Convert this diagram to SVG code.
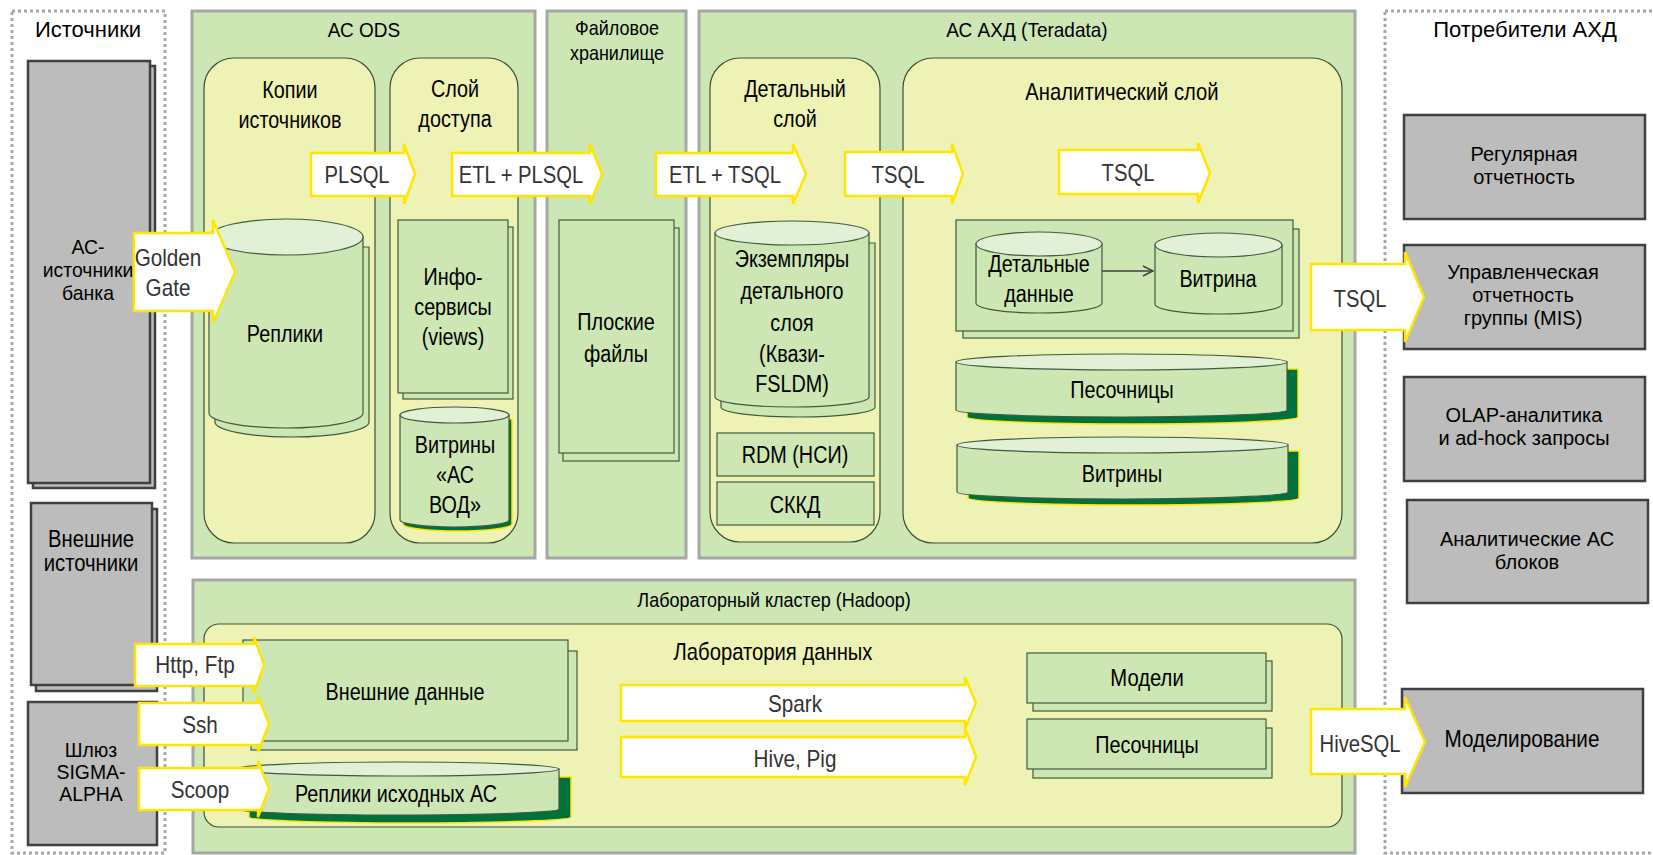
<svg xmlns="http://www.w3.org/2000/svg" width="1653" height="855" viewBox="0 0 1653 855">
<style>
text{font-family:"Liberation Sans",Arial,sans-serif;text-anchor:middle;fill:#000}
.ttl{font-size:22px}
.ft{font-size:20px}
.pt{font-size:23px}
.nt{font-size:23px}
.gt{font-size:20px}
.at{font-size:23px;fill:#333}
.dot{fill:none;stroke:#a6a6a6;stroke-width:3;stroke-dasharray:3 3}
.frame{fill:#cce6b4;stroke:#a6a6a6;stroke-width:3}
.panel{fill:#eef2b5;stroke:#3e4e38;stroke-width:1.2}
.box{fill:#cce6b4;stroke:#3f5a3f;stroke-width:1.2}
.cyl{fill:#cce6b4;stroke:#3f5a3f;stroke-width:1.2}
.top{fill:#e2f0d6;stroke:#3f5a3f;stroke-width:1.2}
.shd{fill:#00703c;stroke:#ffe600;stroke-width:1.5}
.grey{fill:#bcbcbc;stroke:#404040;stroke-width:2.5}
.arr{fill:#fff;stroke:#ffe600;stroke-width:2.5;stroke-linejoin:miter}
.ln{fill:none;stroke:#404040;stroke-width:1.5}
</style>
<defs>
<marker id="open" viewBox="0 0 12 12" refX="11" refY="6" markerWidth="12" markerHeight="12" markerUnits="userSpaceOnUse" orient="auto">
<path d="M1 1 L11 6 L1 11" fill="none" stroke="#404040" stroke-width="1.5"/>
</marker>
</defs>
<rect width="1653" height="855" fill="#fff"/>

<!-- Sources column -->
<g id="sources-frame">
<rect class="dot" x="12" y="11" width="153" height="842"/>
<text class="ttl" transform="translate(88 37)">Источники</text>
</g>
<g id="as-sources">
<rect class="grey" x="33" y="66" width="122" height="422"/>
<rect class="grey" x="28" y="61" width="122" height="422"/>
<text class="gt" transform="translate(88 254) scale(.97 1)"><tspan x="0">АС-</tspan><tspan x="0" dy="23">источники</tspan><tspan x="0" dy="23">банка</tspan></text>
</g>
<g id="ext-sources">
<rect class="grey" x="36" y="509" width="121" height="182"/>
<rect class="grey" x="31" y="503" width="121" height="182"/>
<text class="nt" transform="translate(91 547) scale(.88 1)"><tspan x="0">Внешние</tspan><tspan x="0" dy="24">источники</tspan></text>
</g>
<g id="gateway">
<rect class="grey" x="28" y="702" width="129" height="143"/>
<text class="gt" transform="translate(91 757) scale(.97 1)"><tspan x="0">Шлюз</tspan><tspan x="0" dy="22">SIGMA-</tspan><tspan x="0" dy="22">ALPHA</tspan></text>
</g>

<!-- AC ODS -->
<g id="ac-ods">
<rect class="frame" x="192" y="11" width="343" height="547"/>
<text class="ft" transform="translate(364 37) scale(.95 1)">АС ODS</text>
</g>
<g id="source-copies">
<rect class="panel" x="204" y="58" width="171" height="485" rx="30"/>
<text class="pt" transform="translate(290 98) scale(.86 1)"><tspan x="0">Копии</tspan><tspan x="0" dy="30">источников</tspan></text>
</g>
<g id="replicas">
<path class="cyl" d="M215 247 V422 A77 15 0 0 0 369 422 V247 Z"/>
<path class="cyl" d="M209 237 V413 A77 15 0 0 0 363 413 V237 Z"/>
<ellipse class="top" cx="286" cy="237" rx="77" ry="18"/>
<text class="nt" transform="translate(285 342) scale(.86 1)">Реплики</text>
</g>
<g id="access-layer">
<rect class="panel" x="390" y="58" width="128" height="485" rx="30"/>
<text class="pt" transform="translate(455 97) scale(.86 1)"><tspan x="0">Слой</tspan><tspan x="0" dy="30">доступа</tspan></text>
</g>
<g id="infoservices">
<rect class="box" x="403" y="227" width="110" height="172"/>
<rect class="box" x="398" y="220" width="110" height="173"/>
<text class="nt" transform="translate(453 285) scale(.86 1)"><tspan x="0">Инфо-</tspan><tspan x="0" dy="30">сервисы</tspan><tspan x="0" dy="30">(views)</tspan></text>
</g>
<g id="vod-marts">
<path class="shd" d="M403 419 V524 A54.5 7 0 0 0 512 524 V419 Z"/>
<path class="cyl" d="M400 415 V520 A54.5 7 0 0 0 509 520 V415 Z"/>
<ellipse class="top" cx="454.5" cy="415" rx="54.5" ry="8"/>
<text class="nt" transform="translate(455 453) scale(.86 1)"><tspan x="0">Витрины</tspan><tspan x="0" dy="30">«АС</tspan><tspan x="0" dy="30">ВОД»</tspan></text>
</g>

<!-- File storage -->
<g id="file-storage">
<rect class="frame" x="547" y="11" width="139" height="547"/>
<text class="ft" transform="translate(617 35) scale(.9 1)"><tspan x="0">Файловое</tspan><tspan x="0" dy="25">хранилище</tspan></text>
</g>
<g id="flat-files">
<rect class="box" x="563" y="228" width="116" height="233"/>
<rect class="box" x="559" y="220" width="115" height="233"/>
<text class="nt" transform="translate(616 330) scale(.86 1)"><tspan x="0">Плоские</tspan><tspan x="0" dy="32">файлы</tspan></text>
</g>

<!-- AC AHD -->
<g id="ac-ahd">
<rect class="frame" x="699" y="11" width="656" height="547"/>
<text class="ft" transform="translate(1027 37) scale(.95 1)">АС АХД (Teradata)</text>
</g>
<g id="detail-layer">
<rect class="panel" x="710" y="58" width="170" height="484" rx="30"/>
<text class="pt" transform="translate(795 97) scale(.86 1)"><tspan x="0">Детальный</tspan><tspan x="0" dy="30">слой</tspan></text>
</g>
<g id="detail-instances">
<path class="cyl" d="M721 243 V407 A77 10 0 0 0 875 407 V243 Z"/>
<path class="cyl" d="M715 233 V397 A77 10 0 0 0 869 397 V233 Z"/>
<ellipse class="top" cx="792" cy="233" rx="77" ry="12"/>
<text class="nt" transform="translate(792 267) scale(.86 1)"><tspan x="0">Экземпляры</tspan><tspan x="0" dy="32">детального</tspan><tspan x="0" dy="32">слоя</tspan><tspan x="0" dy="31">(Квази-</tspan><tspan x="0" dy="30">FSLDM)</tspan></text>
</g>
<g id="rdm">
<rect class="box" x="717" y="433" width="157" height="43"/>
<text class="nt" transform="translate(795 463) scale(.86 1)">RDM (НСИ)</text>
</g>
<g id="skkd">
<rect class="box" x="717" y="482" width="157" height="43"/>
<text class="nt" transform="translate(795 513) scale(.86 1)">СККД</text>
</g>
<g id="analytic-layer">
<rect class="panel" x="903" y="58" width="439" height="485" rx="30"/>
<text class="pt" transform="translate(1122 100) scale(.88 1)">Аналитический слой</text>
</g>
<g id="mart-block">
<rect class="box" x="963" y="229" width="336" height="109"/>
<rect class="box" x="956" y="220" width="337" height="111"/>
</g>
<g id="detail-data">
<path class="cyl" d="M976 244 V303 A63 10 0 0 0 1102 303 V244 Z"/>
<ellipse class="top" cx="1039" cy="244" rx="63" ry="12"/>
<text class="nt" transform="translate(1039 272) scale(.86 1)"><tspan x="0">Детальные</tspan><tspan x="0" dy="30">данные</tspan></text>
</g>
<g id="mart">
<path class="cyl" d="M1155 245 V304 A63.5 10 0 0 0 1282 304 V245 Z"/>
<ellipse class="top" cx="1218.5" cy="245" rx="63.5" ry="12"/>
<text class="nt" transform="translate(1218 287) scale(.86 1)">Витрина</text>
</g>
<g id="sandboxes">
<path class="shd" d="M967 369 V417 A165.5 7 0 0 0 1298 417 V369 Z"/>
<path class="cyl" d="M956 362 V410 A165.5 7 0 0 0 1287 410 V362 Z"/>
<ellipse class="top" cx="1121.5" cy="362" rx="165.5" ry="8"/>
<text class="nt" transform="translate(1122 398) scale(.86 1)">Песочницы</text>
</g>
<g id="marts">
<path class="shd" d="M968 451 V498 A165.5 7 0 0 0 1299 498 V451 Z"/>
<path class="cyl" d="M957 445 V492 A165.5 7 0 0 0 1288 492 V445 Z"/>
<ellipse class="top" cx="1122.5" cy="445" rx="165.5" ry="8"/>
<text class="nt" transform="translate(1122 482) scale(.86 1)">Витрины</text>
</g>

<!-- Hadoop -->
<g id="hadoop">
<rect class="frame" x="193" y="580" width="1162" height="273"/>
<text class="ft" transform="translate(774 607) scale(.9 1)">Лабораторный кластер (Hadoop)</text>
</g>
<g id="data-lab">
<rect class="panel" x="204" y="624" width="1138" height="203" rx="15"/>
<text class="pt" transform="translate(773 660) scale(.88 1)">Лаборатория данных</text>
</g>
<g id="external-data">
<rect class="box" x="251" y="651" width="326" height="99"/>
<rect class="box" x="243" y="640" width="325" height="101"/>
<text class="nt" transform="translate(405 700) scale(.86 1)">Внешние данные</text>
</g>
<g id="source-replicas">
<path class="shd" d="M249 777 V817 A161 6 0 0 0 571 817 V777 Z"/>
<path class="cyl" d="M237 769 V809 A161 6 0 0 0 559 809 V769 Z"/>
<ellipse class="top" cx="398" cy="769" rx="161" ry="7"/>
<text class="nt" transform="translate(396 802) scale(.86 1)">Реплики исходных АС</text>
</g>
<g id="models">
<rect class="box" x="1033" y="661" width="239" height="50"/>
<rect class="box" x="1027" y="653" width="239" height="50"/>
<text class="nt" transform="translate(1147 686) scale(.88 1)">Модели</text>
</g>
<g id="lab-sandboxes">
<rect class="box" x="1033" y="728" width="239" height="50"/>
<rect class="box" x="1027" y="719" width="239" height="50"/>
<text class="nt" transform="translate(1147 753) scale(.86 1)">Песочницы</text>
</g>

<!-- Consumers -->
<g id="consumers-frame">
<rect class="dot" x="1385" y="11" width="300" height="842"/>
<text class="ttl" transform="translate(1525 37)">Потребители АХД</text>
</g>
<g id="regular-reporting">
<rect class="grey" x="1404" y="115" width="241" height="104"/>
<text class="gt" transform="translate(1524 161)"><tspan x="0">Регулярная</tspan><tspan x="0" dy="23">отчетность</tspan></text>
</g>
<g id="mis">
<rect class="grey" x="1404" y="245" width="241" height="104"/>
<text class="gt" transform="translate(1523 279)"><tspan x="0">Управленческая</tspan><tspan x="0" dy="23">отчетность</tspan><tspan x="0" dy="23">группы (MIS)</tspan></text>
</g>
<g id="olap">
<rect class="grey" x="1404" y="377" width="241" height="104"/>
<text class="gt" transform="translate(1524 422)"><tspan x="0">OLAP-аналитика</tspan><tspan x="0" dy="23">и ad-hock запросы</tspan></text>
</g>
<g id="analytic-as">
<rect class="grey" x="1407" y="500" width="241" height="103"/>
<text class="gt" transform="translate(1527 546)"><tspan x="0">Аналитические АС</tspan><tspan x="0" dy="23">блоков</tspan></text>
</g>
<g id="modeling">
<rect class="grey" x="1402" y="689" width="241" height="104"/>
<text class="nt" transform="translate(1522 747) scale(.9 1)">Моделирование</text>
</g>

<!-- Connectors -->
<g id="connectors">
<path class="ln" d="M1102 271 H1153" marker-end="url(#open)"/>
<path class="arr" d="M311 153 H404 V144 L415 174 L404 204 V196 H311 Z"/>
<text class="at" transform="translate(357 183) scale(.88 1)">PLSQL</text>
<path class="arr" d="M452 153 H590 V144 L602 174 L590 204 V196 H452 Z"/>
<text class="at" transform="translate(521 183) scale(.88 1)">ETL + PLSQL</text>
<path class="arr" d="M656 153 H793 V144 L806 174 L793 204 V196 H656 Z"/>
<text class="at" transform="translate(725 183) scale(.88 1)">ETL + TSQL</text>
<path class="arr" d="M845 152 H952 V144 L963 174 L952 204 V196 H845 Z"/>
<text class="at" transform="translate(898 183) scale(.88 1)">TSQL</text>
<path class="arr" d="M1059 150 H1198 V143 L1210 173 L1198 203 V194 H1059 Z"/>
<text class="at" transform="translate(1128 181) scale(.88 1)">TSQL</text>
<path class="arr" d="M134 233 H213 V220 L235 272 L213 323 V311 H134 Z"/>
<text class="at" transform="translate(168 266) scale(.9 1)"><tspan x="0">Golden</tspan><tspan x="0" dy="30">Gate</tspan></text>
<path class="arr" d="M1311 264 H1405 V252 L1424 297 L1405 342 V330 H1311 Z"/>
<text class="at" transform="translate(1360 307) scale(.88 1)">TSQL</text>
<path class="arr" d="M1311 709 H1405 V697 L1425 742 L1405 787 V774 H1311 Z"/>
<text class="at" transform="translate(1360 752) scale(.88 1)">HiveSQL</text>
<path class="arr" d="M135 644 H254 V637 L264 665 L254 693 V686 H135 Z"/>
<text class="at" transform="translate(195 673) scale(.9 1)">Http, Ftp</text>
<path class="arr" d="M139 703 H258 V696 L269 724 L258 752 V745 H139 Z"/>
<text class="at" transform="translate(200 733) scale(.9 1)">Ssh</text>
<path class="arr" d="M139 768 H258 V761 L269 789 L258 817 V810 H139 Z"/>
<text class="at" transform="translate(200 798) scale(.9 1)">Scoop</text>
<path class="arr" d="M621 685 H965 V677 L976 703 L965 729 V721 H621 Z"/>
<text class="at" transform="translate(795 712) scale(.9 1)">Spark</text>
<path class="arr" d="M621 737 H965 V728 L976 757 L965 785 V777 H621 Z"/>
<text class="at" transform="translate(795 767) scale(.9 1)">Hive, Pig</text>
</g>
</svg>
